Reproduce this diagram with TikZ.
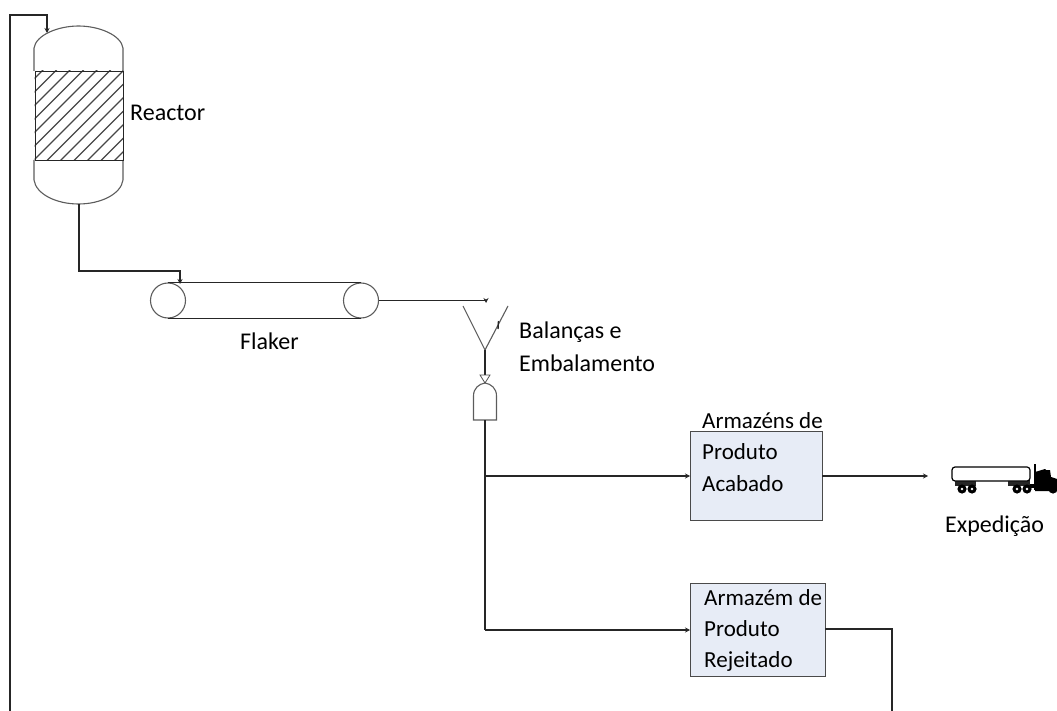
\documentclass[tikz,border=0pt]{standalone}
\usepackage{fontspec}
\setmainfont{Carlito}
\usetikzlibrary{arrows.meta,calc}
\definecolor{ln}{HTML}{262626}
\definecolor{boxfill}{HTML}{E7ECF6}
\definecolor{boxln}{HTML}{4A4A4A}
\tikzset{
  pipe/.style={draw=ln,line width=1.3pt},
  flow/.style={pipe,-{Stealth[length=5pt,width=5pt]}},
  vessel/.style={draw=ln!75,line width=1.1pt},
  store/.style={draw=boxln,line width=1.3pt,fill=boxfill,minimum height=0pt,anchor=north west,inner sep=0pt},
  lbl/.style={font=\fontsize{24}{24}\selectfont,anchor=base west,inner sep=0pt,text=black},
  storelbl/.style={lbl,font=\fontsize{23}{23}\selectfont},
  roller/.style={circle,draw=ln!75,line width=1.1pt,inner sep=0pt},
  pt/.style={coordinate}
}
\begin{document}
\begin{tikzpicture}[x=1pt,y=-1pt]
\useasboundingbox (0,0) rectangle (1057,711);
% Reactor
\draw[vessel] (34,71) -- (34,48) .. controls (36,35) and (58,26) .. (78.5,26) .. controls (99,26) and (121,35) .. (123,48) -- (123,71);
\draw[vessel] (34,160) -- (34,180) .. controls (36,194) and (56,204) .. (78.5,204) .. controls (101,204) and (121,194) .. (123,180) -- (123,160);
\node[pt] (reactorTop) at (47,33) {};
\node[pt] (reactorBottom) at (79,204) {};
\begin{scope}
\clip (34.5,71) rectangle (123,160);
\foreach \k in {-8,...,7}{
  \draw[draw=ln!85,line width=1.3pt] (29+\k*13.5,165) -- ++(100,-100);
}
\end{scope}
\node[draw=ln,line width=1.3pt,minimum width=88.5pt,minimum height=89pt,inner sep=0pt,anchor=north west] (bed) at (34.5,71) {};
\node[lbl] (lblReactor) at (130,121) {Reactor};
% Flaker
\node[roller,minimum size=35pt] (rollerL) at (168,300.5) {};
\node[roller,minimum size=35pt] (rollerR) at (361,300.5) {};
\draw[pipe] (rollerL.north) -- (rollerR.north);
\draw[pipe] (rollerL.south) -- (rollerR.south);
\node[lbl] (lblFlaker) at (240,349.5) {Flaker};
\node[pt] (flakerIn) at (180,284) {};
\draw[flow] (reactorBottom) -- (79,271) -| (flakerIn);
% Funnel
\node[pt] (funnelTip) at (485,350) {};
\node[pt] (funnelIn) at (486,303) {};
\draw[vessel] (463,306) -- (funnelTip) -- (508,306);
\draw[draw=ln,line width=1.4pt] (498.5,321) -- (498,329);
\draw[flow] (rollerR.east) -- (486,300.5) -- (funnelIn);
\node[lbl] (lblBal1) at (519,338) {Balanças e};
\node[lbl] (lblBal2) at (519,371) {Embalamento};
% Bin
\node[pt] (binTop) at (485,383) {};
\node[pt] (binBottom) at (485,420) {};
\draw[vessel] (473.5,420) -- (473.5,396) .. controls (473.5,388) and (479,384) .. (binTop) .. controls (491,384) and (496.5,388) .. (496.5,396) -- (496.5,420) -- cycle;
\draw[pipe] (funnelTip) -- (binTop);
\draw[draw=ln!80,line width=.8pt,fill=white] (480,375) -- (490,375) -- (485,383) -- cycle;
% Stores
\node[store,minimum width=132pt,minimum height=89pt] (storeA) at (690,431) {};
\node[store,minimum width=135pt,minimum height=93pt] (storeB) at (690,583) {};
\node[storelbl] at (702,428) {Armazéns de};
\node[storelbl] at (702,459.5) {Produto};
\node[storelbl] at (702,491) {Acabado};
\node[storelbl] at (704,605) {Armazém de};
\node[storelbl] at (704,636.5) {Produto};
\node[storelbl] at (704,667.5) {Rejeitado};
\node[pt] (junctionA) at (485,476) {};
\draw[pipe] (binBottom) -- (485,630);
\draw[flow] (485,630) -- (690,630);
\draw[flow] (junctionA) -- (690,476);
\node[pt] (truckEnd) at (928,476) {};
\draw[flow] (822,476) -- (truckEnd);
\node[pt] (offPage) at (892,711) {};
\draw[pipe] (825,629) -| (offPage);
% recycle
\node[pt] (pageBottom) at (10,711) {};
\draw[flow] (pageBottom) -- (10,15) -- (47,15) -- (reactorTop);
% Truck
\fill[ln] (955,480) rectangle (976,486);
\fill[ln] (1008,480) rectangle (1030,486);
\foreach \x in {962,972,1017,1027,1053}{
  \fill[black] (\x,489) circle (4.6pt);
  \fill[white] (\x,489) circle (1.4pt);
}
\draw[draw=black,line width=1.2pt,fill=white,rounded corners=3pt] (952,467) rectangle (1030,481);
\fill[black] (1034,464) rectangle (1035.5,490);
\fill[black] (1035,472) -- (1045,469) -- (1046,470) -- (1050,470) -- (1051,477) -- (1057,479) -- (1057,491) -- (1035,491) -- cycle;
\fill[black] (1030,484) rectangle (1046,488);
\node[lbl] (lblExp) at (945,532) {Expedição};
\end{tikzpicture}
\end{document}
